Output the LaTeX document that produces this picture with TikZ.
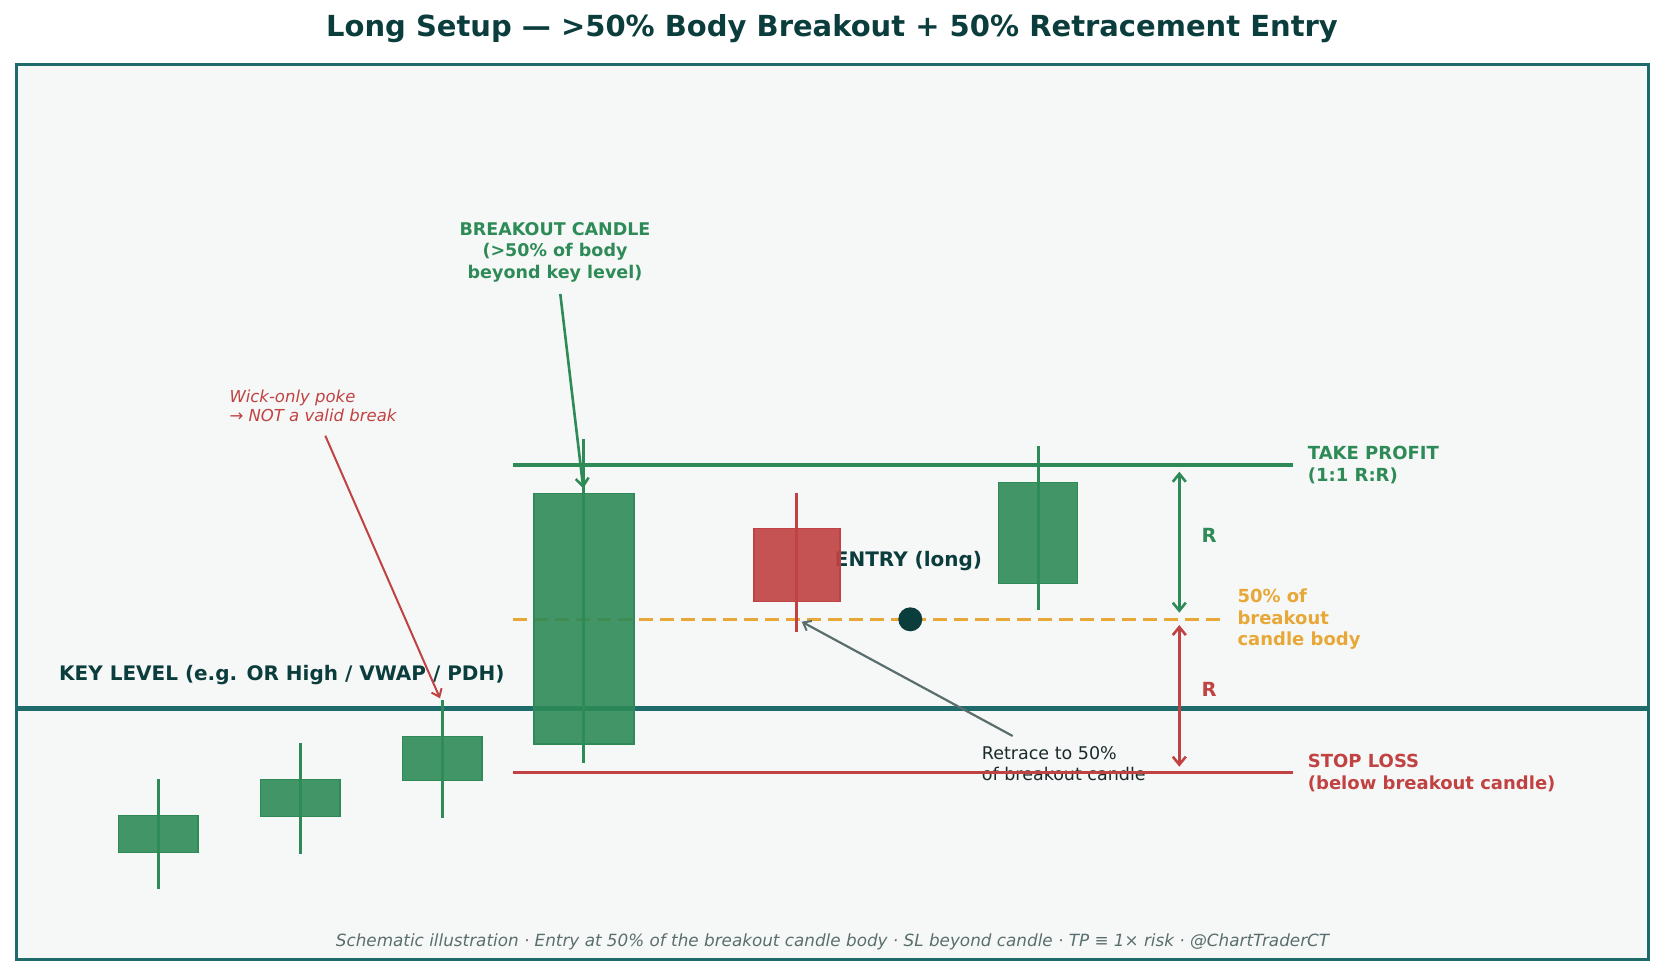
\documentclass[tikz,border=0pt]{standalone}
\usepackage{fontspec}
\setmainfont{DejaVu Sans}
\usetikzlibrary{arrows.meta}
\definecolor{bgc}{HTML}{F6F8F7}
\definecolor{framec}{HTML}{1F6B6B}
\definecolor{darkc}{HTML}{0B3D3D}
\definecolor{greenc}{HTML}{2E8B57}
\definecolor{redc}{HTML}{C14242}
\definecolor{orangec}{HTML}{E8A838}
\definecolor{greyc}{HTML}{5A6E6E}
\definecolor{textc}{HTML}{1A2A2A}
\newcommand\fsz[2]{\fontsize{#1}{#2}\selectfont}
\newcommand\mycandle[7]{%
  \path[fill=#7,fill opacity=0.9,draw=#7,line width=1.5pt] (#1-#2/2,#3) rectangle (#1+#2/2,#4);
  \draw[#7,line width=3pt] (#1,#5) -- (#1,#6);
}
\tikzset{
  lbl/.style={inner sep=0pt,align=left,anchor=west},
  levelline/.style={line width=3.3pt},
  barb/.style={-{Straight Barb[length=8pt,width=13pt,line width=2.6pt]}},
  dbarb/.style={{Straight Barb[length=8pt,width=13pt,line width=2.6pt]}-{Straight Barb[length=8pt,width=13pt,line width=2.6pt]}},
  thinbarb/.style={-{Straight Barb[length=7pt,width=11pt,line width=2pt]}},
}
\begin{document}
\begin{tikzpicture}[x=1pt,y=-1pt]
\useasboundingbox (0,0) rectangle (1664,975);
\fill[white] (0,0) rectangle (1664,975);
\path[fill=bgc,draw=framec,line width=3pt] (16,64) rectangle (1648,959);

% title
\node[anchor=base,inner sep=0pt,text=darkc,font={\fsz{29}{34}\bfseries}] (title) at (832,36)
  {Long Setup — >50\% Body Breakout + 50\% Retracement Entry};

% key level
\coordinate (klL) at (16,708.3);
\coordinate (klR) at (1648,708.3);
\draw[framec,line width=4.5pt] (klL) -- (klR);
\node[anchor=base west,inner sep=0pt,text=darkc,font={\fsz{20}{24}\bfseries}] (kltext) at (59,680)
  {KEY LEVEL (e.g. OR High / VWAP / PDH)};

% texts under lines/candles
\node[anchor=base,inner sep=0pt,text=darkc,font={\fsz{20}{24}\bfseries}] (entry) at (908.5,566)
  {ENTRY (long)};
\node[lbl,text=textc,font={\fsz{17.5}{21.6}}] (retr) at (981.7,763.5)
  {Retrace to 50\%\\of breakout candle};

% levels
\coordinate (tpL) at (513,465); \coordinate (tpR) at (1293,465);
\coordinate (slL) at (513,772.7); \coordinate (slR) at (1293,772.7);
\coordinate (hfL) at (513,619); \coordinate (hfR) at (1222,619);
\draw[greenc,levelline] (tpL) -- (tpR);
\draw[redc,levelline] (slL) -- (slR);
\draw[orangec,line width=3pt,dash pattern=on 14pt off 7pt] (hfL) -- (hfR);

% candles
\mycandle{158.3}{79.4}{815.7}{852.3}{779}{888.7}{greenc}
\mycandle{300.3}{79.4}{779.3}{816.3}{743}{853.7}{greenc}
\mycandle{442.3}{79.4}{736.3}{780.3}{700}{817.7}{greenc}
\mycandle{583.8}{100}{493.3}{744}{439}{763.3}{greenc}
\mycandle{796.8}{86}{528.3}{601.7}{493}{631.7}{redc}
\mycandle{1038}{79.4}{482.3}{583.7}{446}{609.7}{greenc}

% entry dot
\coordinate (dot) at (910.3,619.3);
\fill[darkc] (dot) circle (12);

% labels on right
\node[lbl,text=greenc,font={\fsz{18}{21.7}\bfseries}] (tptext) at (1307.7,465)
  {TAKE PROFIT\\(1:1 R:R)};
\node[lbl,text=redc,font={\fsz{18}{21.7}\bfseries}] (sltext) at (1307.7,773)
  {STOP LOSS\\(below breakout candle)};
\node[lbl,text=orangec,font={\fsz{18}{21.7}\bfseries}] (hftext) at (1237.3,619.3)
  {50\% of\\breakout\\candle body};
\node[anchor=base,inner sep=0pt,text=greenc,font={\fsz{19.5}{22}\bfseries}] (rg) at (1209,542) {R};
\node[anchor=base,inner sep=0pt,text=redc,font={\fsz{19.5}{22}\bfseries}] (rr) at (1209,696) {R};

% R arrows
\coordinate (gaT) at (1179.3,471.7); \coordinate (gaB) at (1179.3,612.7);
\coordinate (raT) at (1179.3,625); \coordinate (raB) at (1179.3,766.7);
\draw[greenc,line width=3pt,dbarb] (gaT) -- (gaB);
\draw[redc,line width=3pt,dbarb] (raT) -- (raB);

% breakout annotation
\node[inner sep=0pt,align=center,text=greenc,font={\fsz{17.5}{21.7}\bfseries}] (bktext) at (555,252.3)
  {BREAKOUT CANDLE\\(>50\% of body\\beyond key level)};
\coordinate (bkTail) at (560.3,294);
\coordinate (bkTip) at (583.3,488.3);
\draw[greenc,line width=2.6pt,barb] (bkTail) -- (bkTip);

% wick-only annotation
\node[lbl,text=redc,font={\fsz{16.5}{19.6}\itshape}] (wktext) at (229.3,406)
  {Wick-only poke\\→ NOT a valid break};
\coordinate (wkTail) at (325.3,435.7);
\coordinate (wkTip) at (440,698.3);
\draw[redc,line width=2pt,thinbarb] (wkTail) -- (wkTip);

% retrace arrow
\coordinate (rtTail) at (1012.7,736);
\coordinate (rtTip) at (801.7,621.7);
\draw[greyc,line width=2.2pt,thinbarb] (rtTail) -- (rtTip);

% footer
\node[anchor=base,inner sep=0pt,text=greyc,font={\fsz{16.8}{20}\itshape}] (footer) at (832.5,946)
  {Schematic illustration · Entry at 50\% of the breakout candle body · SL beyond candle · TP ≡ 1× risk · @ChartTraderCT};
\end{tikzpicture}
\end{document}
